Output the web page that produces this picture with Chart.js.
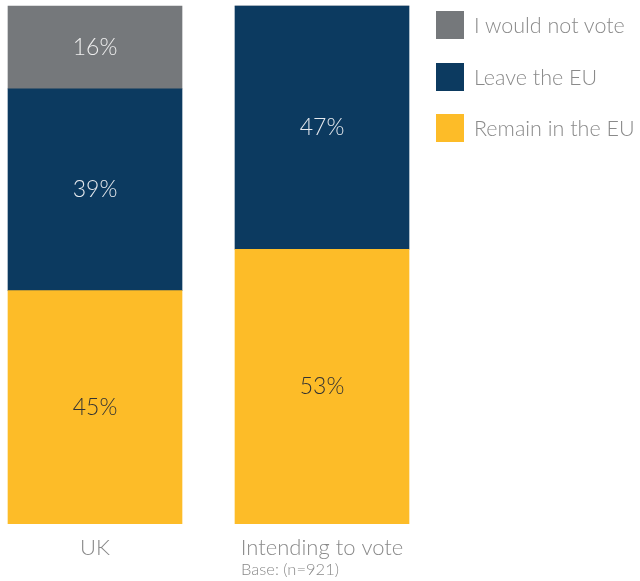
<!DOCTYPE html>
<html>
<head>
<meta charset="utf-8">
<script src="https://cdn.jsdelivr.net/npm/chart.js@4"></script>
<style>
  body { margin: 0; background: #fff; font-family: Lato, sans-serif; font-weight: 300; }
  #wrap { position: relative; width: 640px; height: 581px; }
  .key { position: absolute; left: 436px; height: 28px; display: flex; align-items: center; color: #8a8a8a; font-size: 21.5px; white-space: nowrap; }
  .key span.box { width: 28px; height: 28px; margin-right: 10px; display: inline-block; }
  #base { position: absolute; left: 241px; top: 559px; font-size: 16.5px; color: #8a8a8a; }
</style>
</head>
<body>
<div id="wrap">
  <canvas id="voteChart" width="640" height="581"></canvas>
  <div class="key" style="top:11px"><span class="box" style="background:#75787b"></span>I would not vote</div>
  <div class="key" style="top:63px"><span class="box" style="background:#0c3a60"></span>Leave the EU</div>
  <div class="key" style="top:114px"><span class="box" style="background:#fdbc28"></span>Remain in the EU</div>
  <div id="base">Base: (n=921)</div>
</div>
<script>
const categories = ["UK", "Intending to vote"];
const remain = [45, 53];
const leave = [39, 47];
const notVote = [16, 0];

// writes the % value in the middle of each bar segment
const valueLabels = {
  id: "valueLabels",
  afterDatasetsDraw(chart) {
    const ctx = chart.ctx;
    ctx.save();
    ctx.font = "300 23px Lato";
    ctx.textAlign = "center";
    ctx.textBaseline = "middle";
    chart.data.datasets.forEach((ds, i) => {
      chart.getDatasetMeta(i).data.forEach((bar, j) => {
        const v = ds.data[j];
        if (!v) return;
        ctx.fillStyle = ds.labelColor;
        ctx.fillText(v + "%", bar.x, (bar.y + bar.base) / 2);
      });
    });
    ctx.restore();
  },
};

const voteChart = new Chart(document.getElementById("voteChart").getContext("2d"), {
  type: "bar",
  data: {
    labels: categories,
    datasets: [
      {
        label: "Remain in the EU",
        data: remain,
        backgroundColor: "#fdbc28",
        labelColor: "#333333",
        barThickness: 174,
        clip: false,
      },
      {
        label: "Leave the EU",
        data: leave,
        backgroundColor: "#0c3a60",
        labelColor: "#e6e9ee",
        barThickness: 174,
        clip: false,
      },
      {
        label: "I would not vote",
        data: notVote,
        backgroundColor: "#75787b",
        labelColor: "#eeeeee",
        barThickness: 174,
        clip: false,
      },
    ],
  },
  options: {
    responsive: false,
    animation: false,
    layout: {
      padding: { left: 95, right: 318, top: 6, bottom: 17 },
    },
    plugins: {
      legend: { display: false },
      tooltip: { enabled: false },
    },
    scales: {
      y: {
        stacked: true,
        display: false,
        min: 0,
        max: 100,
      },
      x: {
        stacked: true,
        offset: false,
        grid: { display: false },
        border: { display: false },
        ticks: {
          color: "#8a8a8a",
          padding: 3,
          font: { family: "Lato", weight: "300", size: 22 },
        },
      },
    },
  },
  plugins: [valueLabels],
});
</script>
</body>
</html>
